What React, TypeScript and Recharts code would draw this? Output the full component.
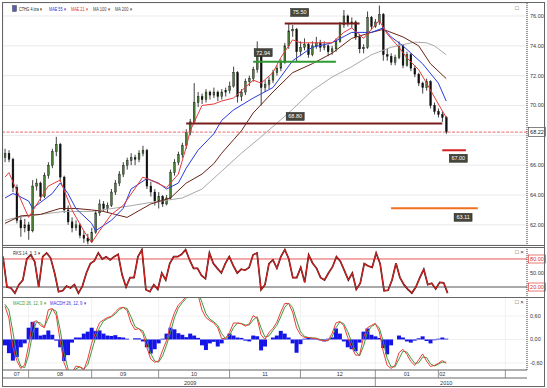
import React from "react";
import { ComposedChart, Bar, Line, XAxis, YAxis, CartesianGrid, ReferenceLine } from "recharts";

// 4-hour candles [open, high, low, close]
const candles: [number, number, number, number][] = [
  [66.5, 67.1, 66.2, 66.8], [66.8, 67.0, 66.2, 66.4], [66.4, 66.5, 64.2, 64.5], [64.5, 64.7, 62.1, 62.3],
  [62.3, 62.6, 61.2, 61.8], [61.8, 62.4, 61.5, 62.0], [62.0, 62.2, 61.0, 61.6], [61.6, 65.0, 61.5, 64.6],
  [64.6, 65.1, 64.3, 64.8], [64.8, 64.9, 63.6, 63.9], [63.9, 65.5, 63.8, 65.3], [65.3, 66.2, 65.1, 66.0],
  [66.0, 67.1, 65.8, 66.9], [66.9, 67.9, 66.6, 67.4], [67.4, 67.5, 64.9, 65.2], [65.2, 65.3, 62.8, 63.0],
  [63.0, 63.3, 62.0, 62.2], [62.2, 62.5, 61.5, 61.8], [61.8, 62.3, 61.6, 62.0], [62.0, 62.1, 61.1, 61.3],
  [61.3, 61.6, 60.8, 61.1], [61.1, 61.4, 60.7, 60.9], [60.9, 61.8, 60.8, 61.5], [61.5, 63.0, 61.4, 62.8],
  [62.8, 63.7, 62.6, 63.4], [63.4, 63.6, 62.9, 63.1], [63.1, 63.5, 62.8, 63.3], [63.3, 64.4, 63.2, 64.2],
  [64.2, 65.0, 64.0, 64.8], [64.8, 65.6, 64.6, 65.4], [65.4, 66.2, 65.2, 66.0], [66.0, 66.5, 65.7, 66.3],
  [66.3, 66.8, 66.0, 66.5], [66.5, 66.7, 66.0, 66.4], [66.4, 67.0, 66.2, 66.8], [66.8, 67.3, 66.6, 67.0],
  [67.0, 67.1, 64.4, 64.6], [64.6, 64.9, 63.9, 64.2], [64.2, 64.4, 63.3, 63.6], [63.6, 64.2, 63.1, 63.9],
  [63.9, 64.0, 63.2, 63.4], [63.4, 64.0, 63.3, 63.8], [63.8, 65.7, 63.7, 65.5], [65.5, 66.4, 65.3, 66.2],
  [66.2, 66.9, 66.0, 66.7], [66.7, 67.5, 66.5, 67.3], [67.3, 68.4, 67.1, 68.2], [68.2, 69.1, 68.0, 68.9],
  [68.9, 71.5, 68.8, 70.2], [70.2, 70.9, 69.9, 70.6], [70.6, 70.8, 70.1, 70.4], [70.4, 71.1, 70.2, 70.9],
  [70.9, 71.0, 70.4, 70.7], [70.7, 71.2, 70.5, 70.9], [70.9, 71.0, 70.3, 70.6], [70.6, 71.1, 70.4, 70.9],
  [70.9, 71.2, 70.6, 71.0], [71.0, 71.6, 70.8, 71.3], [71.3, 72.6, 71.2, 72.2], [72.2, 72.3, 70.2, 70.6],
  [70.6, 71.1, 70.3, 70.9], [70.9, 71.8, 70.7, 71.6], [71.6, 72.0, 71.3, 71.8], [71.8, 72.6, 71.6, 72.4],
  [72.4, 74.3, 72.2, 73.6], [73.6, 73.7, 70.0, 71.2], [71.2, 71.7, 70.9, 71.4], [71.4, 71.9, 71.1, 71.7],
  [71.7, 72.4, 71.5, 72.2], [72.2, 72.7, 72.0, 72.5], [72.5, 73.1, 72.3, 72.9], [72.9, 74.2, 72.8, 74.0],
  [74.0, 75.5, 73.8, 75.0], [75.0, 75.4, 74.6, 75.1], [75.1, 75.2, 72.9, 73.6], [73.6, 74.3, 73.3, 73.9],
  [73.9, 74.5, 73.7, 74.1], [74.1, 74.2, 73.2, 73.4], [73.4, 74.3, 73.3, 74.0], [74.0, 74.6, 73.8, 74.2],
  [74.2, 74.4, 73.6, 73.9], [73.9, 74.3, 73.7, 74.0], [74.0, 74.1, 73.3, 73.6], [73.6, 74.0, 73.4, 73.8],
  [73.8, 74.5, 73.6, 74.3], [74.3, 75.6, 74.2, 75.4], [75.4, 76.4, 75.2, 76.0], [76.0, 76.1, 75.3, 75.5],
  [75.5, 75.9, 75.2, 75.6], [75.6, 75.7, 74.4, 74.6], [74.6, 74.8, 73.5, 73.8], [73.8, 74.1, 73.5, 73.9],
  [73.9, 76.3, 73.8, 75.9], [75.9, 76.0, 75.1, 75.3], [75.3, 75.8, 75.2, 75.6], [75.6, 76.7, 75.4, 76.1],
  [76.1, 76.2, 73.0, 73.4], [73.4, 73.8, 73.0, 73.3], [73.3, 73.5, 72.7, 72.9], [72.9, 73.4, 72.7, 73.2],
  [73.2, 74.3, 73.1, 74.0], [74.0, 74.1, 72.5, 72.7], [72.7, 73.6, 72.6, 73.4], [73.4, 73.5, 72.3, 72.5],
  [72.5, 72.7, 71.9, 72.1], [72.1, 72.2, 71.3, 71.5], [71.5, 71.6, 70.8, 71.2], [71.2, 71.8, 71.0, 71.6],
  [71.6, 71.7, 69.8, 70.0], [70.0, 70.2, 69.4, 69.6], [69.6, 69.8, 69.2, 69.4], [69.4, 69.6, 68.9, 69.2],
  [69.2, 69.3, 68.1, 68.22],
];

// moving averages read at [bar, value]
const mae21: [number, number][] = [
  [0, 65.2], [1, 65.5], [3, 64.3], [6, 62.5], [11, 64.6], [14, 65.0], [17, 63.0], [20, 61.6], [22, 60.8],
  [24, 61.6], [27, 62.7], [30, 63.3], [35, 65.2], [37, 65.0], [41, 64.5], [44, 65.4], [46, 67.2], [47, 68.3],
  [50, 70.0], [53, 70.1], [55, 70.3], [58, 70.5], [63, 71.7], [65, 71.5], [68, 72.2], [70, 73.2], [73, 74.4],
  [75, 74.2], [80, 74.2], [83, 74.2], [86, 74.9], [88, 75.2], [91, 74.5], [94, 75.4], [95, 75.7], [97, 74.8],
  [100, 73.9], [102, 73.2], [105, 72.4], [107, 71.5], [110, 70.1], [112, 69.2],
];
const mae55: [number, number][] = [
  [0, 63.8], [2, 64.1], [3, 64.0], [6, 63.6], [7, 63.1], [9, 63.5], [12, 64.1], [14, 64.8], [16, 64.1],
  [18, 63.1], [22, 62.1], [23, 61.6], [27, 62.3], [30, 63.1], [32, 64.4], [36, 65.1], [39, 64.8], [41, 64.4],
  [44, 64.8], [46, 65.8], [49, 67.0], [53, 68.1], [55, 69.0], [58, 69.7], [63, 70.5], [68, 71.2], [73, 73.0],
  [78, 73.9], [83, 74.2], [88, 74.9], [93, 74.9], [96, 75.2], [98, 74.6], [101, 74.0], [106, 72.8],
  [110, 71.5], [112, 70.3],
];
const ma100: [number, number][] = [
  [0, 62.1], [4, 62.6], [9, 62.7], [14, 63.1], [18, 63.1], [22, 63.0], [25, 62.9], [28, 62.7], [31, 62.5],
  [37, 63.4], [42, 63.8], [46, 64.8], [50, 65.4], [53, 66.1], [55, 66.8], [58, 67.7], [60, 68.3], [63, 69.5],
  [68, 70.9], [73, 72.2], [78, 72.8], [83, 73.5], [88, 74.5], [93, 74.9], [96, 75.1], [98, 74.9], [101, 74.6],
  [105, 74.0], [108, 72.8], [112, 71.8],
];
const ma200: [number, number][] = [
  [0, 62.3], [3, 62.5], [9, 62.7], [15, 62.9], [22, 62.9], [30, 63.2], [37, 63.5], [45, 63.8], [50, 64.4],
  [55, 65.6], [60, 66.8], [65, 67.9], [72, 69.5], [78, 71.0], [83, 71.9], [88, 72.6], [93, 73.4], [98, 73.9],
  [104, 74.25], [107, 74.2], [109, 74.0], [112, 73.4],
];

// RKS 14, 3, 3
const stoch = [
  85, 20, 18, 7, 25, 35, 80, 89, 74, 20, 85, 93, 82, 50, 10, 12, 22, 18, 25, 7,
  22, 50, 70, 76, 93, 80, 85, 78, 85, 90, 46, 20, 40, 40, 85, 100, 14, 10, 25, 15,
  50, 35, 70, 85, 85, 90, 100, 78, 60, 60, 45, 38, 93, 70, 60, 50, 70, 85, 66, 50,
  58, 56, 62, 89, 93, 14, 25, 70, 78, 60, 85, 100, 80, 40, 40, 62, 30, 89, 71, 60,
  40, 35, 50, 63, 85, 75, 55, 35, 50, 15, 28, 70, 65, 62, 93, 70, 12, 13, 35, 71,
  40, 25, 15, 7, 20, 40, 58, 25, 28, 16, 30, 29, 7,
];

// MACD 26, 12, 9 (red), its signal (green) and MACDH
const macd = [
  0.85, 0.55, -0.2, -0.54, -0.74, -0.65, -0.15, 0.43, 0.48, 0.36, 0.3, 0.76, 0.79, 0.62, -0.03, -0.6,
  -0.85, -0.85, -0.68, -0.7, -0.78, -0.5, -0.1, 0.18, 0.43, 0.5, 0.56, 0.59, 0.7, 0.8, 0.82, 0.74,
  0.42, 0.25, 0.28, 0.15, -0.2, -0.5, -0.58, -0.55, -0.28, -0.03, 0.38, 0.68, 0.88, 0.98, 1.1, 1.25,
  1.3, 1.15, 0.75, 0.56, 0.48, 0.42, 0.3, 0.02, 0.03, 0.18, 0.42, 0.42, 0.4, 0.34, 0.4, 0.61, 0.54,
  0.12, 0.0, 0.18, 0.28, 0.44, 0.7, 0.92, 0.92, 0.7, 0.3, 0.12, 0.05, 0.05, 0.03, 0.03, -0.02, -0.03,
  -0.03, 0.15, 0.42, 0.46, 0.35, 0.05, -0.2, -0.4, -0.4, 0.05, 0.3, 0.36, 0.41, 0.2, -0.3, -0.66,
  -0.74, -0.66, -0.34, -0.25, -0.38, -0.56, -0.66, -0.52, -0.37, -0.55, -0.69, -0.66, -0.61, -0.54, -0.61,
];
const signal = [
  0.9, 0.75, 0.2, -0.4, -0.68, -0.72, -0.4, 0.15, 0.45, 0.42, 0.32, 0.55, 0.78, 0.72, 0.25, -0.35,
  -0.75, -0.88, -0.75, -0.7, -0.75, -0.65, -0.3, 0.05, 0.3, 0.47, 0.53, 0.58, 0.65, 0.76, 0.82, 0.79,
  0.58, 0.33, 0.27, 0.22, -0.02, -0.36, -0.55, -0.58, -0.42, -0.15, 0.18, 0.55, 0.8, 0.94, 1.05, 1.18,
  1.28, 1.22, 0.95, 0.66, 0.52, 0.45, 0.36, 0.15, 0.02, 0.1, 0.3, 0.42, 0.41, 0.37, 0.37, 0.5, 0.58,
  0.3, 0.06, 0.09, 0.23, 0.36, 0.58, 0.82, 0.93, 0.82, 0.5, 0.2, 0.08, 0.05, 0.04, 0.03, 0.0, -0.03,
  -0.03, 0.06, 0.3, 0.45, 0.4, 0.2, -0.07, -0.3, -0.42, -0.17, 0.18, 0.33, 0.39, 0.3, -0.05, -0.48,
  -0.7, -0.7, -0.5, -0.3, -0.32, -0.47, -0.61, -0.6, -0.45, -0.46, -0.62, -0.68, -0.63, -0.58, -0.58,
];
const macdh = [
  -0.15, -0.35, -0.54, -0.45, -0.2, -0.1, 0.3, 0.45, 0.3, 0.1, 0.12, 0.23, 0.12, -0.03, -0.2, -0.55,
  -0.4, -0.08, 0.05, 0.05, 0.15, 0.2, 0.3, 0.22, 0.23, 0.15, 0.1, 0.09, 0.11, 0.06, 0.05, 0.02,
  0.0, 0.03, 0.03, -0.05, -0.2, -0.36, -0.25, -0.1, 0.02, 0.15, 0.3, 0.26, 0.16, 0.12, 0.06, 0.15,
  0.1, 0.04, -0.15, -0.27, -0.1, -0.06, -0.18, -0.1, 0.02, 0.15, 0.1, 0.05, 0.04, -0.03, -0.05, 0.1, 0.08,
  -0.28, -0.18, 0.0, 0.05, 0.1, 0.22, 0.15, 0.05, -0.1, -0.34, -0.12, 0.02, 0.05, 0.03, 0.02, -0.02, -0.05,
  0.02, 0.05, 0.28, 0.15, -0.05, -0.2, -0.25, -0.3, -0.08, 0.2, 0.28, 0.12, 0.08, 0.04, -0.22, -0.38,
  -0.15, 0.0, 0.1, 0.05, -0.05, -0.08, -0.03, 0.03, 0.08, -0.04, -0.1, -0.02, 0.02, 0.05, 0.02,
];

// drawn levels and their bar spans
const levelValues = [75.5, 72.94, 68.8, 67.0, 63.11];
const levelSpans: [number, number][] = [[71, 90], [63, 84], [46, 111], [111, 117], [98, 120]];
const lastPrice = 68.22;

// time axis (bar slots, incl. empty future slots)
const SLOTS = 133;
const monthEnds = [6, 22, 39, 57, 75, 94, 110, 127];
const monthMids = [3, 14, 30, 48, 66, 85, 102, 111];
const monthNames = ["07", "08", "09", "10", "11", "12", "01", "02"];
const yearTicks = [47, 94, 112];
const yearNames: Record<number, string> = { 47: "2009", 112: "2010" };

const priceTicks = [62, 64, 66, 68, 70, 72, 74, 76];
const rksTicks = [20, 50, 80];
const macdTicks = [-0.6, 0, 0.6];

const BW = 524 / SLOTS;
const FONT = "'Liberation Sans', Arial, sans-serif";

const pick = (pts: [number, number][]) => {
  const m = new Map(pts);
  return (i: number) => (m.has(i) ? (m.get(i) as number) : null);
};
const e21 = pick(mae21), e55 = pick(mae55), m100 = pick(ma100), m200 = pick(ma200);

const rows = Array.from({ length: SLOTS }, (_, i) => {
  const k = candles[i];
  return {
    i,
    o: k ? k[0] : null, h: k ? k[1] : null, l: k ? k[2] : null, c: k ? k[3] : null,
    e21: e21(i), e55: e55(i), m100: m100(i), m200: m200(i),
    st: stoch[i] ?? null, m1: macd[i] ?? null, m2: signal[i] ?? null, mh: macdh[i] ?? null,
  };
});

const Candle = (p: any) => {
  const { x, y, width, height, payload } = p;
  if (payload == null || payload.o == null) return <g />;
  const top = Math.min(y, y + height);
  const hh = Math.abs(height);
  const k = hh / (payload.h - payload.l || 1);
  const cx = x + width / 2;
  const bt = top + (payload.h - Math.max(payload.o, payload.c)) * k;
  const bb = top + (payload.h - Math.min(payload.o, payload.c)) * k;
  const up = payload.c >= payload.o;
  const bw = Math.max(1.5, width * 0.6);
  return (
    <g>
      <line x1={cx} x2={cx} y1={top} y2={top + hh} stroke="#111" strokeWidth={0.8} />
      <rect x={cx - bw / 2} y={bt} width={bw} height={Math.max(0.8, bb - bt)}
        fill={up ? "#4a7d36" : "#111"} stroke="#111" strokeWidth={0.4} />
    </g>
  );
};

const PriceTick = (p: any) => {
  const v = p.payload.value;
  if (v === 68) return <g />;
  return <text x={p.x + 3} y={p.y + 2} fontSize={5.5} fill="#333" fontFamily={FONT}>{v.toFixed(2)}</text>;
};

const RksTick = (p: any) => {
  const v = p.payload.value;
  const t = v.toFixed(2);
  if (v === 50) return <text x={p.x + 3} y={p.y + 2} fontSize={5.5} fill="#333" fontFamily={FONT}>{t}</text>;
  return (
    <g>
      <rect x={p.x + 1.5} y={p.y - 4} width={17} height={8} fill="#fff" stroke="#e04040" strokeWidth={0.7} />
      <text x={p.x + 10} y={p.y + 2} textAnchor="middle" fontSize={5.5} fill="#d03030" fontFamily={FONT}>{t}</text>
    </g>
  );
};

const MacdTick = (p: any) => {
  const v = p.payload.value;
  return <text x={p.x + 3} y={p.y + 2} fontSize={5.5} fill="#333" fontFamily={FONT}>{v.toFixed(2).replace(".", ",")}</text>;
};

const MonthTick = (p: any) => {
  const k = monthEnds.indexOf(p.payload.value);
  const lx = p.x + (monthMids[k] - monthEnds[k]) * BW;
  return (
    <g>
      <line x1={p.x} x2={p.x} y1={p.y} y2={p.y + 8} stroke="#777" strokeWidth={0.8} />
      <text x={lx} y={p.y + 6.3} textAnchor="middle" fontSize={5.5} fill="#333" fontFamily={FONT}>{monthNames[k]}</text>
    </g>
  );
};

const YearTick = (p: any) => {
  const v = p.payload.value;
  if (!yearNames[v]) return <line x1={p.x} x2={p.x} y1={p.y} y2={p.y + 9} stroke="#777" strokeWidth={0.8} />;
  return <text x={p.x} y={p.y + 7} textAnchor="middle" fontSize={5.5} fill="#333" fontFamily={FONT}>{yearNames[v]}</text>;
};

const levelStyles = [
  { color: "#7b1c1c", dx: 15, dy: -11 },
  { color: "#2f9a2f", dx: 10, dy: -9 },
  { color: "#7b1c1c", dx: 109, dy: -7 },
  { color: "#d82020", dx: 16, dy: 8 },
  { color: "#f07020", dx: 72, dy: 9 },
];

const levelLabel = (text: string, dx: number, dy: number) => (props: any) => {
  const vb = props.viewBox || { x: 0, y: 0 };
  const cx = vb.x + dx;
  const cy = vb.y + dy;
  return (
    <g>
      <rect x={cx - 9} y={cy - 4} width={18} height={8} fill="#46463a" stroke="#222" strokeWidth={0.5} />
      <text x={cx} y={cy + 2} textAnchor="middle" fontSize={5.5} fill="#fff" fontFamily={FONT}>{text}</text>
    </g>
  );
};

const lastLabel = (props: any) => {
  const vb = props.viewBox || { x: 0, y: 0, width: 0 };
  const x = vb.x + vb.width + 1.5;
  return (
    <g>
      <rect x={x} y={vb.y - 4.5} width={17} height={9} fill="#fff" stroke="#333" strokeWidth={0.6} />
      <text x={x + 8.5} y={vb.y + 2} textAnchor="middle" fontSize={5.5} fill="#222" fontFamily={FONT}>{lastPrice.toFixed(2)}</text>
    </g>
  );
};

const hiddenX = (
  <XAxis dataKey="i" ticks={monthEnds} interval={0} height={0} tick={false} axisLine={false} tickLine={false} />
);
const margin = { top: 0, right: 0, bottom: 0, left: 3 };
const yAxisLine = { stroke: "#444", strokeDasharray: "1 1" };

export default function App() {
  return (
    <div style={{ position: "absolute", left: 0, top: 0, width: 547, height: 388, background: "#fff", overflow: "hidden" }}>
      <div style={{ position: "absolute", left: 0, top: 3 }}>
        <ComposedChart width={547} height={242} data={rows} margin={margin} barCategoryGap="15%">
          <CartesianGrid stroke="#e3e3e3" strokeWidth={0.8} />
          {hiddenX}
          <YAxis orientation="right" width={20} domain={[60.65, 76.87]} allowDataOverflow ticks={priceTicks}
            interval={0} tickSize={0} tickMargin={0} tickLine={false} axisLine={yAxisLine} tick={<PriceTick />} />
          <ReferenceLine y={lastPrice} stroke="#f08a8a" strokeDasharray="3 1.5" strokeWidth={1.2} label={lastLabel} />
          <Bar dataKey={(d: any) => (d.o == null ? null : [d.l, d.h])} shape={Candle} isAnimationActive={false} />
          <Line dataKey="m200" stroke="#a9a9a9" strokeWidth={1} dot={false} connectNulls isAnimationActive={false} />
          <Line dataKey="m100" stroke="#6a2416" strokeWidth={1} dot={false} connectNulls isAnimationActive={false} />
          <Line dataKey="e55" stroke="#2a3ae0" strokeWidth={1} dot={false} connectNulls isAnimationActive={false} />
          <Line dataKey="e21" stroke="#e53a3a" strokeWidth={1} dot={false} connectNulls isAnimationActive={false} />
          {levelValues.map((v, k) => (
            <ReferenceLine key={k}
              segment={[{ x: levelSpans[k][0], y: v }, { x: levelSpans[k][1], y: v }]}
              stroke={levelStyles[k].color} strokeWidth={2}
              label={levelLabel(v.toFixed(2), levelStyles[k].dx, levelStyles[k].dy)} />
          ))}
        </ComposedChart>
      </div>

      <div style={{ position: "absolute", left: 0, top: 247 }}>
        <ComposedChart width={547} height={50} data={rows} margin={margin}>
          <CartesianGrid stroke="#ececec" strokeWidth={0.8} horizontal={false} />
          {hiddenX}
          <YAxis orientation="right" width={20} domain={[-1.4, 105.7]} allowDataOverflow ticks={rksTicks}
            interval={0} tickSize={0} tickMargin={0} tickLine={false} axisLine={yAxisLine} tick={<RksTick />} />
          <ReferenceLine y={80} stroke="#e65555" strokeWidth={1} />
          <ReferenceLine y={20} stroke="#555" strokeWidth={1} />
          <Line dataKey="st" name="rksD" stroke="#5a1212" strokeWidth={1.7} dot={false} isAnimationActive={false} />
          <Line dataKey="st" name="rksK" stroke="#dc2424" strokeWidth={1} dot={false} isAnimationActive={false} />
        </ComposedChart>
      </div>

      <div style={{ position: "absolute", left: 0, top: 297 }}>
        <ComposedChart width={547} height={90} data={rows} margin={margin} barCategoryGap={0} barGap={0}>
          <CartesianGrid stroke="#ececec" strokeWidth={0.8} />
          <XAxis dataKey="i" ticks={monthEnds} interval={0} height={8} tickSize={0} tickMargin={0}
            tickLine={false} axisLine={{ stroke: "#666" }} tick={<MonthTick />} />
          <XAxis xAxisId="yr" dataKey="i" ticks={yearTicks} interval={0} height={9} tickSize={0} tickMargin={0}
            tickLine={false} axisLine={{ stroke: "#666" }} tick={<YearTick />} />
          <YAxis orientation="right" width={20} domain={[-0.78, 1.085]} allowDataOverflow ticks={macdTicks}
            interval={0} tickSize={0} tickMargin={0} tickLine={false} axisLine={yAxisLine} tick={<MacdTick />} />
          <Bar dataKey="mh" fill="#1414e6" isAnimationActive={false} />
          <Line dataKey="m2" stroke="#3c9a3c" strokeWidth={1} dot={false} isAnimationActive={false} />
          <Line dataKey="m1" stroke="#f03a3a" strokeWidth={1} dot={false} isAnimationActive={false} />
          <Line xAxisId="yr" dataKey="m1" stroke="transparent" dot={false} activeDot={false} isAnimationActive={false} />
        </ComposedChart>
      </div>

      <svg width={547} height={388} style={{ position: "absolute", left: 0, top: 0, pointerEvents: "none" }} fontFamily={FONT}>
        <rect x={2.5} y={2.5} width={542} height={384} fill="none" stroke="#666" />
        <line x1={2} x2={545} y1={245.5} y2={245.5} stroke="#666" />
        <line x1={2} x2={545} y1={247.5} y2={247.5} stroke="#666" />
        <line x1={2} x2={545} y1={297.5} y2={297.5} stroke="#666" />
        <rect x={12.5} y={5.5} width={4} height={6} fill="#5b5bb0" stroke="#333" strokeWidth={0.4} />
        <text x={19} y={10.5} fontSize={5} fill="#222" textLength={23} lengthAdjust="spacingAndGlyphs">CTHG 4 óra ▾</text>
        <text x={49} y={10.5} fontSize={5} fill="#3333dd" textLength={17} lengthAdjust="spacingAndGlyphs">MAE 55 ▾</text>
        <text x={71} y={10.5} fontSize={5} fill="#dd3333" textLength={17} lengthAdjust="spacingAndGlyphs">MAE 21 ▾</text>
        <text x={93} y={10.5} fontSize={5} fill="#444" textLength={17} lengthAdjust="spacingAndGlyphs">MA 100 ▾</text>
        <text x={115} y={10.5} fontSize={5} fill="#444" textLength={17} lengthAdjust="spacingAndGlyphs">MA 200 ▾</text>
        <text x={515} y={10} fontSize={6} fill="#333">□</text>
        <text x={13} y={254.5} fontSize={5} fill="#333" textLength={27} lengthAdjust="spacingAndGlyphs">RKS 14, 3, 3 ▾</text>
        <text x={515} y={254} fontSize={6} fill="#333">□ ×</text>
        <text x={13} y={304.5} fontSize={5} fill="#3c9a3c" textLength={33} lengthAdjust="spacingAndGlyphs">MACD 26, 12, 9 ▾</text>
        <text x={50} y={304.5} fontSize={5} fill="#3333dd" textLength={36} lengthAdjust="spacingAndGlyphs">MACDH 26, 12, 9 ▾</text>
        <text x={515} y={304} fontSize={6} fill="#333">□ ×</text>
      </svg>
    </div>
  );
}
